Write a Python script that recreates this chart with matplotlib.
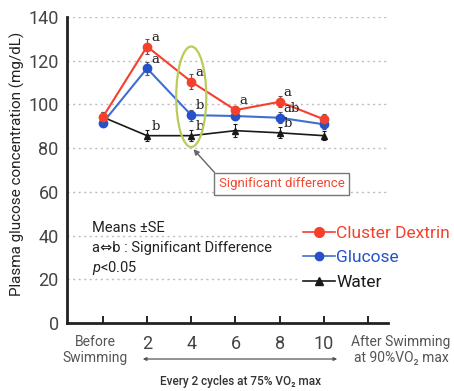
import matplotlib
matplotlib.use("Agg")
import matplotlib.pyplot as plt
from matplotlib.patches import Ellipse
from matplotlib.lines import Line2D

plt.rcParams['font.family'] = ['Roboto', 'DejaVu Sans']
plt.rcParams['mathtext.fontset'] = 'custom'
plt.rcParams['mathtext.it'] = 'Roboto:italic'
plt.rcParams['mathtext.rm'] = 'Roboto'

# ---- data ----
positions = [0, 1, 2, 3, 4, 5]
tick_labels = ["2", "4", "6", "8", "10"]
cluster_dextrin = [94.2, 126.5, 110.4, 97.4, 101.2, 93.2]
glucose = [91.6, 116.5, 95.1, 94.7, 93.9, 90.9]
water = [94.2, 85.7, 85.7, 88.0, 87.0, 85.7]
cd_err = [2.5, 3.5, 3.5, 2.0, 2.5, 2.5]
gl_err = [2.0, 3.0, 2.5, 2.0, 2.5, 2.0]
wa_err = [2.5, 2.5, 2.5, 3.0, 2.5, 2.0]
cd_letters = ["", "a", "a", "a", "a", ""]
gl_letters = ["", "a", "b", "", "ab", ""]
wa_letters = ["", "b", "b", "", "b", ""]

RED = "#f5402c"
BLUE = "#2552c8"
BLUE_LINE = "#3f6fd0"
BLACK = "#1a1a1a"

fig = plt.figure(figsize=(4.54, 3.91), dpi=100)
ax = fig.add_axes([0.1476, 0.174, 0.707, 0.7825])

ax.set_xlim(-0.81, 6.45)
ax.set_ylim(0, 140)

# grid
for yv in range(20, 141, 20):
    ax.axhline(yv, color="#bdbdbd", lw=1.0, ls=(0, (1.5, 2.5)), zorder=0)

ax.errorbar(positions, water, yerr=wa_err, color=BLACK, lw=1.2, marker="^",
            ms=5, capsize=1.5, elinewidth=0.8, capthick=0.8, ecolor=BLACK, zorder=3)
ax.errorbar(positions, glucose, yerr=gl_err, color=BLUE_LINE, lw=1.5, marker="o",
            ms=6, mfc=BLUE, mec=BLUE, capsize=1.5, elinewidth=0.8, capthick=0.8,
            ecolor="#555555", zorder=4)
ax.errorbar(positions, cluster_dextrin, yerr=cd_err, color=RED, lw=1.5, marker="o",
            ms=6, capsize=1.5, elinewidth=0.8, capthick=0.8, ecolor="#555555", zorder=5)

for series, letters, errs in [(cluster_dextrin, cd_letters, cd_err),
                              (glucose, gl_letters, gl_err),
                              (water, wa_letters, wa_err)]:
    for x, y, l, e in zip(positions, series, letters, errs):
        if l:
            ax.annotate(l, (x, y), xytext=(3, 2), textcoords="offset points",
                        fontsize=9.5, family="DejaVu Serif", color="#222222",
                        ha="left", va="bottom", zorder=6)

# ellipse highlight
ax.add_patch(Ellipse((2, 103.5), 0.68, 46, fill=False, ec="#b9cc5a", lw=1.6, zorder=6))

ax.annotate("Significant difference", xy=(2.05, 79.5), xytext=(4.05, 63.6),
            fontsize=9.5, color="#f04a34", ha="center", va="center",
            bbox=dict(boxstyle="square,pad=0.35", fc="white", ec="#777777", lw=1.0),
            arrowprops=dict(arrowstyle="-|>", color="#666666", lw=1.0,
                            relpos=(0, 1), shrinkA=0, shrinkB=0, mutation_scale=8),
            zorder=7)

# annotation text
ax.text(-0.25, 43.5, "Means \u00b1SE", fontsize=10.5, va="center", ha="left", color="#222222")
ax.text(-0.25, 34.3, "a\u21d4b : Significant Difference", fontsize=10.5, va="center",
        ha="left", color="#222222")
ax.text(-0.25, 25.2, "$p$<0.05", fontsize=10.5, va="center", ha="left", color="#222222")

# legend
handles = [
    Line2D([], [], color=RED, marker="o", ms=7, lw=1.2),
    Line2D([], [], color=BLUE_LINE, marker="o", ms=6, mfc=BLUE, mec=BLUE, lw=1.2),
    Line2D([], [], color=BLACK, marker="^", ms=6, lw=1.2),
]
leg = ax.legend(handles, ["Cluster Dextrin", "Glucose", "Water"], loc="upper left",
                bbox_to_anchor=(300 / 454, 1 - 222 / 391), bbox_transform=fig.transFigure,
                fontsize=12.5, handlelength=1.8, handletextpad=0.1, labelspacing=0.55,
                borderpad=0.2, borderaxespad=0, frameon=True, fancybox=False)
leg.get_frame().set_edgecolor("none")
leg.get_frame().set_facecolor("white")
leg.get_frame().set_alpha(1)
for t, c in zip(leg.get_texts(), [RED, BLUE, BLACK]):
    t.set_color(c)

# axes styling
for s in ["top", "right"]:
    ax.spines[s].set_visible(False)
for s in ["left", "bottom"]:
    ax.spines[s].set_linewidth(2)
    ax.spines[s].set_color("#222222")

ax.set_yticks(range(0, 141, 20))
ax.tick_params(axis="y", length=0, pad=6, labelsize=13, labelcolor="#444444")
ax.set_xticks([0, 1, 2, 3, 4, 5, 6])
ax.set_xticklabels([""] + tick_labels + [""])
ax.tick_params(axis="x", direction="in", length=5, width=1.2, pad=9, labelsize=13,
               labelcolor="#444444")

fig.text(95 / 454, 1 - 350 / 391, "Before\nSwimming", ha="center", va="center",
         fontsize=10, color="#555555", linespacing=1.1)
fig.text(401 / 454, 1 - 350 / 391, "After Swimming\nat 90%VO\u2082 max", ha="center",
         va="center", fontsize=10, color="#555555", linespacing=1.1)
fig.text(17 / 454, 1 - 164 / 391, "Plasma glucose concentration (mg/dL)", rotation=90,
         ha="center", va="center", fontsize=11, color="#222222")
fig.text(240 / 454, 1 - 381 / 391, "Every 2 cycles at 75% VO\u2082 max", ha="center",
         va="center", fontsize=8.5, color="#333333", fontweight="medium")
fig.patches.append(matplotlib.patches.FancyArrowPatch(
    (140 / 454, 1 - 359 / 391), (340 / 454, 1 - 359 / 391), transform=fig.transFigure,
    arrowstyle="<|-|>", mutation_scale=5, color="#555555", lw=0.9))

fig.savefig("out.png", dpi=100)
